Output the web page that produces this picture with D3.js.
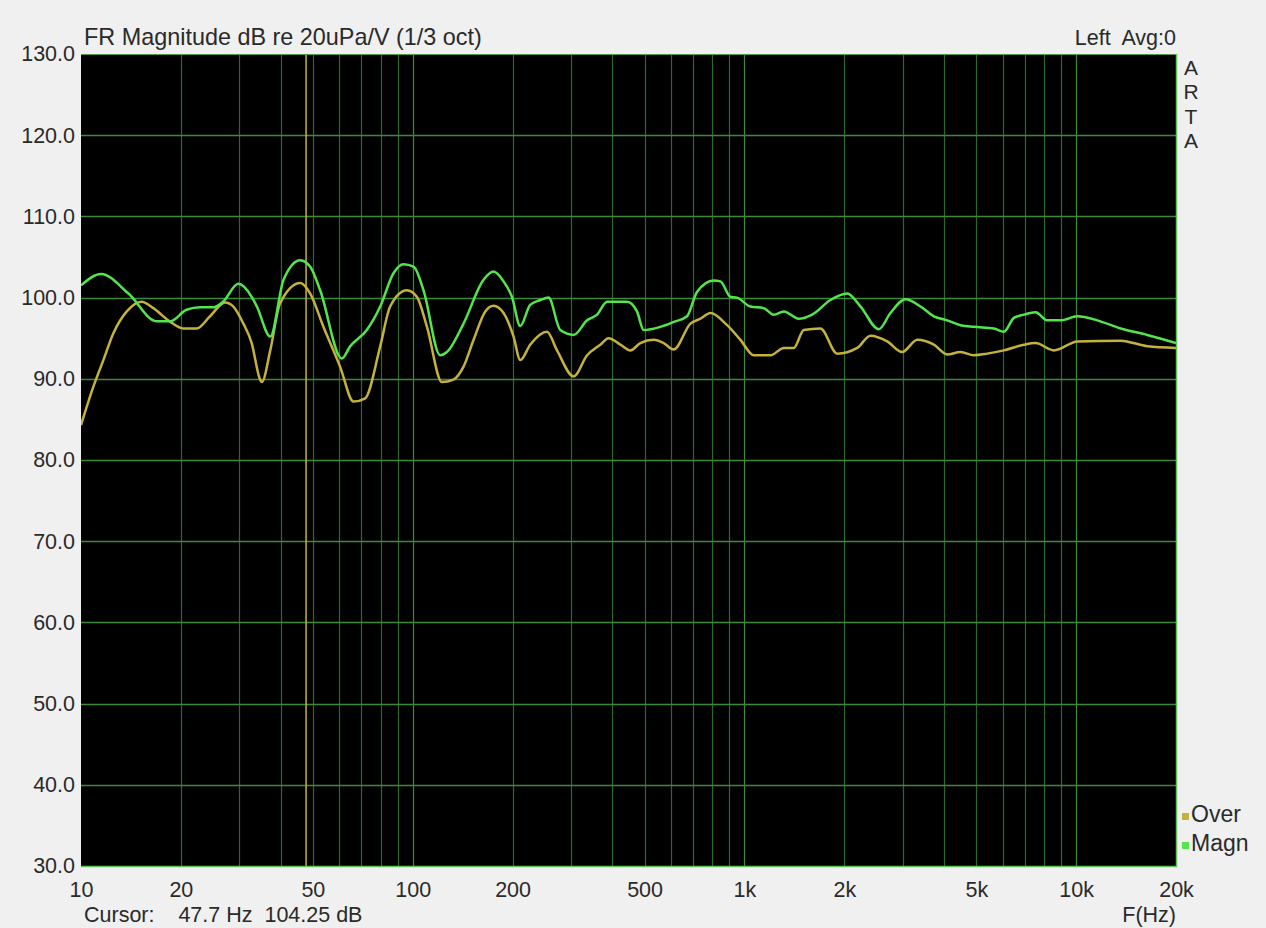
<!DOCTYPE html>
<html>
<head>
<meta charset="utf-8">
<script src="https://cdn.jsdelivr.net/npm/d3@7"></script>
<style>
  html, body { margin: 0; padding: 0; background: #f0f0f0; }
  svg { display: block; }
  text { font-family: "Liberation Sans", Arial, sans-serif; fill: #2a2a2a; }
</style>
</head>
<body>
<svg id="chart" width="1266" height="928"></svg>
<script>
// ---------- data ----------
const magnFreq = [10, 11.5, 13.9, 16.9, 18.6, 20.8, 22.9, 25.0, 26.8, 29.8, 32.7, 33.9, 37.2, 40.8, 45.8, 49.1, 52.6, 61.1, 64.8, 72.7, 79.8, 87.5, 93.8, 100.6, 107.8, 121, 126.8, 142.3, 163.5, 175.3, 187.9, 199.1, 211, 226, 242.5, 256.7, 278.6, 305.5, 335.5, 359.5, 385.4, 442.6, 474.4, 496.8, 558, 612, 671.5, 719.5, 807.6, 846.6, 907, 950, 1042, 1143, 1225, 1314, 1458, 1600, 1817, 2041, 2239, 2542, 2755, 3060, 3396, 3725, 4085, 4483, 4916, 5650, 6055, 6490, 6960, 7547, 8185, 8977, 10083, 11584, 13620, 16400, 20000];
const magnDb = [101.5, 102.9, 100.5, 97.1, 97.1, 98.5, 98.8, 98.8, 99.5, 101.7, 100.1, 98.9, 95.2, 102.2, 104.6, 103.8, 100.9, 92.5, 94.0, 96.0, 98.9, 103.0, 104.1, 103.8, 100.9, 92.9, 93.3, 96.8, 102.2, 103.2, 102.0, 100.1, 96.5, 99.1, 99.7, 100.0, 96.0, 95.4, 97.2, 97.9, 99.5, 99.5, 98.3, 96.0, 96.4, 97.0, 97.7, 100.7, 102.1, 102.0, 100.1, 100.0, 98.9, 98.7, 97.9, 98.3, 97.4, 97.9, 99.7, 100.5, 98.9, 96.1, 98.1, 99.8, 98.9, 97.7, 97.2, 96.6, 96.4, 96.2, 95.8, 97.5, 97.9, 98.2, 97.2, 97.2, 97.7, 97.2, 96.2, 95.4, 94.4];

const overFreq = [10, 10.89, 11.68, 12.52, 13.74, 15.24, 16.52, 18.6, 20.35, 22.34, 24.49, 27.19, 28.8, 30.87, 32.7, 34.67, 35.1, 37.2, 39.83, 45.8, 49.1, 53.8, 60.4, 66.3, 71.9, 79.8, 85.5, 96.0, 102.9, 110.4, 122.5, 132.7, 142.3, 152.6, 165.5, 175.3, 187.9, 201.4, 211, 226, 254, 272.3, 305.5, 335.5, 367.8, 389.6, 422.7, 453.1, 485.7, 532.7, 571, 612, 687.3, 736.9, 789.6, 886.6, 972.7, 1067, 1198, 1314, 1408, 1510, 1695, 1904, 2188, 2399, 2695, 2990, 3319, 3725, 4085, 4483, 4916, 5395, 6055, 6960, 7547, 8570, 10083, 13620, 16400, 20000];
const overDb = [84.3, 89.0, 92.3, 95.6, 98.3, 99.5, 98.7, 97.0, 96.2, 96.2, 97.7, 99.4, 98.9, 96.8, 94.4, 89.9, 89.6, 93.5, 99.3, 101.8, 100.5, 96.4, 91.5, 87.2, 87.6, 94.0, 98.9, 100.9, 100.1, 96.4, 89.6, 89.9, 91.5, 94.8, 98.3, 99.0, 98.1, 95.2, 92.3, 94.2, 95.8, 93.5, 90.3, 92.9, 94.2, 95.0, 94.2, 93.5, 94.4, 94.8, 94.4, 93.6, 96.8, 97.4, 98.1, 96.6, 94.8, 92.9, 92.9, 93.8, 93.8, 96.0, 96.2, 93.1, 93.8, 95.3, 94.6, 93.3, 94.8, 94.2, 93.0, 93.3, 92.9, 93.1, 93.5, 94.2, 94.4, 93.5, 94.6, 94.7, 94.0, 93.8];

const yTicks = [30, 40, 50, 60, 70, 80, 90, 100, 110, 120, 130];
const xTickValues = [10, 20, 50, 100, 200, 500, 1000, 2000, 5000, 10000, 20000];
const xTickLabels = ["10", "20", "50", "100", "200", "500", "1k", "2k", "5k", "10k", "20k"];
const cursorFreq = 47.7;
const cursorDb = 104.25;
const seriesNames = ["Over", "Magn"];

// ---------- layout ----------
const L = 81, R = 1176, T = 54, B = 866;
const svg = d3.select("#chart");
const x = d3.scaleLog().domain([10, 20000]).range([L, R]);
const y = d3.scaleLinear().domain([30, 130]).range([B, T]);

const colMagn = "#52e64c";
const colOver = "#c4b23c";
const FONT = "Liberation Sans, Arial, sans-serif";

// plot background
svg.append("rect").attr("x", L).attr("y", T).attr("width", R - L).attr("height", B - T).attr("fill", "#000");

// grid
const g = svg.append("g");
const gridF = x.ticks().filter(f => f > 10 && f < 20000);
g.selectAll("line.vx").data(gridF).join("line")
  .attr("x1", d => Math.round(x(d)) + 0.5).attr("x2", d => Math.round(x(d)) + 0.5)
  .attr("y1", T).attr("y2", B)
  .attr("stroke", d => (Math.abs(Math.log10(d) - Math.round(Math.log10(d))) < 1e-9) ? "#3f8a3a" : "#2c6a2a")
  .attr("stroke-width", 1.2);
g.selectAll("line.hy").data(yTicks.filter(v => v > 30 && v < 130)).join("line")
  .attr("x1", L).attr("x2", R)
  .attr("y1", d => Math.round(y(d)) + 0.5).attr("y2", d => Math.round(y(d)) + 0.5)
  .attr("stroke", "#3c8a38").attr("stroke-width", 1.3);

// cursor
svg.append("line").attr("x1", x(cursorFreq)).attr("x2", x(cursorFreq)).attr("y1", T).attr("y2", B)
  .attr("stroke", "#c8b432").attr("stroke-width", 1.5);

// border
svg.append("line").attr("x1", L).attr("x2", R).attr("y1", T + 0.5).attr("y2", T + 0.5).attr("stroke", "#4f9a4a").attr("stroke-width", 1);
svg.append("line").attr("x1", R + 0.5).attr("x2", R + 0.5).attr("y1", T).attr("y2", B + 1).attr("stroke", "#5cc458").attr("stroke-width", 1.5);
svg.append("line").attr("x1", L).attr("x2", R + 1).attr("y1", B + 0.5).attr("y2", B + 0.5).attr("stroke", "#5cc458").attr("stroke-width", 1.5);

// curves
const line = d3.line().x(d => x(d[0])).y(d => y(d[1])).curve(d3.curveMonotoneX);
svg.append("clipPath").attr("id", "clp").append("rect").attr("x", L).attr("y", T).attr("width", R - L).attr("height", B - T);
svg.append("path").datum(d3.zip(overFreq, overDb)).attr("d", line)
  .attr("fill", "none").attr("stroke", colOver).attr("stroke-width", 2.5).attr("clip-path", "url(#clp)");
svg.append("path").datum(d3.zip(magnFreq, magnDb)).attr("d", line)
  .attr("fill", "none").attr("stroke", colMagn).attr("stroke-width", 2.5).attr("clip-path", "url(#clp)");

// axes
const yAxis = d3.axisLeft(y).tickValues(yTicks).tickFormat(d3.format(".1f")).tickSize(0).tickPadding(6);
const ya = svg.append("g").attr("transform", `translate(${L},0)`).call(yAxis);
ya.select(".domain").remove();
ya.selectAll("text").style("font-size", "21.5px").attr("fill", "#2a2a2a").style("font-family", FONT);

const xAxis = d3.axisBottom(x).tickValues(xTickValues).tickFormat((d, i) => xTickLabels[i]).tickSize(0).tickPadding(16);
const xa = svg.append("g").attr("transform", `translate(0,${B})`).call(xAxis);
xa.select(".domain").remove();
xa.selectAll("text").style("font-size", "21.5px").attr("fill", "#2a2a2a").style("font-family", FONT);

// texts
svg.append("text").attr("x", 84).attr("y", 45).style("font-size", "23.4px").text("FR Magnitude dB re 20uPa/V (1/3 oct)");
svg.append("text").attr("x", 1176).attr("y", 45).attr("text-anchor", "end").style("font-size", "21.5px").attr("xml:space", "preserve").text("Left  Avg:0");
["A", "R", "T", "A"].forEach((c, i) => {
  svg.append("text").attr("x", 1191).attr("y", 75 + i * 24.3).attr("text-anchor", "middle").style("font-size", "21px").text(c);
});
svg.append("text").attr("x", 84).attr("y", 922).style("font-size", "21.5px").attr("xml:space", "preserve")
  .text(`Cursor:    ${cursorFreq.toFixed(1)} Hz  ${cursorDb.toFixed(2)} dB`);
svg.append("text").attr("x", 1176).attr("y", 922).attr("text-anchor", "end").style("font-size", "21.5px").text("F(Hz)");

// legend
const lg = svg.append("g");
[[seriesNames[0], colOver, 822], [seriesNames[1], colMagn, 851]].forEach(([name, col, by]) => {
  lg.append("rect").attr("x", 1182).attr("y", by - 9).attr("width", 7).attr("height", 7).attr("fill", col);
  lg.append("text").attr("x", 1191).attr("y", by).style("font-size", "23px").text(name);
});
</script>
</body>
</html>
